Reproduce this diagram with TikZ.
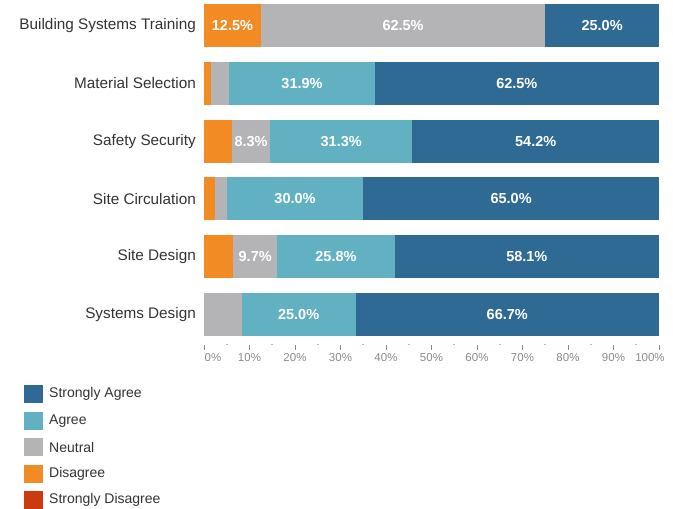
\documentclass[tikz,border=0pt]{standalone}
\usepackage{fontspec}
\setmainfont{Liberation Sans}
\definecolor{sagree}{HTML}{2E6A94}
\definecolor{agree}{HTML}{62B1C2}
\definecolor{neutral}{HTML}{B4B4B6}
\definecolor{disagree}{HTML}{F28B24}
\definecolor{sdisagree}{HTML}{CC3A12}
\definecolor{lbl}{HTML}{333333}
\definecolor{tick}{HTML}{8A8A8A}
\newcommand\barseg[6]{%
  \node[seg, fill=#5, minimum width={4.55pt*(#4-#3)}] (#1) at ({204+4.55*#3}, #2) {#6};}
\begin{document}
\begin{tikzpicture}[x=1pt, y=-1pt,
  seg/.style={anchor=west, inner sep=0pt, outer sep=0pt, minimum height=43pt,
    text=white, font=\fontsize{14.5}{16}\selectfont\bfseries},
  cat/.style={anchor=east, text=lbl, inner sep=0pt, font=\fontsize{15.3}{17}\selectfont},
  ticklbl/.style={text=tick, inner sep=0pt, font=\fontsize{11.5}{13}\selectfont},
  legsq/.style={minimum width=19pt, minimum height=18pt, inner sep=0pt, outer sep=0pt},
  legtxt/.style={anchor=west, text=lbl, inner sep=0pt, font=\fontsize{14}{16}\selectfont}]
\useasboundingbox (0,0) rectangle (673,509);
% row 1
\node[cat] (c1) at (196,25.5) {Building Systems Training};
\barseg{r1a}{25.5}{0}{12.5}{disagree}{12.5\%}
\barseg{r1b}{25.5}{12.5}{75}{neutral}{62.5\%}
\barseg{r1c}{25.5}{75}{100}{sagree}{25.0\%}
% row 2
\node[cat] (c2) at (196,83.3) {Material Selection};
\barseg{r2a}{83.3}{0}{1.6}{disagree}{}
\barseg{r2b}{83.3}{1.6}{5.6}{neutral}{}
\barseg{r2c}{83.3}{5.6}{37.5}{agree}{31.9\%}
\barseg{r2d}{83.3}{37.5}{100}{sagree}{62.5\%}
% row 3
\node[cat] (c3) at (196,141.1) {Safety Security};
\barseg{r3a}{141.1}{0}{6.2}{disagree}{}
\barseg{r3b}{141.1}{6.2}{14.5}{neutral}{8.3\%}
\barseg{r3c}{141.1}{14.5}{45.8}{agree}{31.3\%}
\barseg{r3d}{141.1}{45.8}{100}{sagree}{54.2\%}
% row 4
\node[cat] (c4) at (196,198.9) {Site Circulation};
\barseg{r4a}{198.9}{0}{2.5}{disagree}{}
\barseg{r4b}{198.9}{2.5}{5}{neutral}{}
\barseg{r4c}{198.9}{5}{35}{agree}{30.0\%}
\barseg{r4d}{198.9}{35}{100}{sagree}{65.0\%}
% row 5
\node[cat] (c5) at (196,256.7) {Site Design};
\barseg{r5a}{256.7}{0}{6.4}{disagree}{}
\barseg{r5b}{256.7}{6.4}{16.1}{neutral}{9.7\%}
\barseg{r5c}{256.7}{16.1}{41.9}{agree}{25.8\%}
\barseg{r5d}{256.7}{41.9}{100}{sagree}{58.1\%}
% row 6
\node[cat] (c6) at (196,314.5) {Systems Design};
\barseg{r6a}{314.5}{0}{8.3}{neutral}{}
\barseg{r6b}{314.5}{8.3}{33.3}{agree}{25.0\%}
\barseg{r6c}{314.5}{33.3}{100}{sagree}{66.7\%}
% axis ticks
\foreach \p in {0,10,...,100} {
  \draw[tick, line width=0.9pt] ({204+4.55*\p},345) -- ({204+4.55*\p},349.5);
}
\foreach \p in {5,15,...,95} {
  \draw[tick!60, line width=0.8pt] ({204+4.55*\p-1},344.5) -- ({204+4.55*\p+1},344.5);
}
\node[ticklbl] (t0) at (213,358) {0\%};
\foreach \p in {10,20,...,90} {
  \node[ticklbl] (t\p) at ({204+4.55*\p},358) {\p\%};
}
\node[ticklbl] (t100) at (650,358) {100\%};
% legend
\node[legsq, fill=sagree] (l1) at (33.5,394) {};
\node[legtxt] (lt1) at (49,394) {Strongly Agree};
\node[legsq, fill=agree] (l2) at (33.5,421) {};
\node[legtxt] (lt2) at (49,421) {Agree};
\node[legsq, fill=neutral] (l3) at (33.5,447) {};
\node[legtxt] (lt3) at (49,447) {Neutral};
\node[legsq, fill=disagree] (l4) at (33.5,474) {};
\node[legtxt] (lt4) at (49,474) {Disagree};
\node[legsq, fill=sdisagree] (l5) at (33.5,500) {};
\node[legtxt] (lt5) at (49,500) {Strongly Disagree};
\end{tikzpicture}
\end{document}
